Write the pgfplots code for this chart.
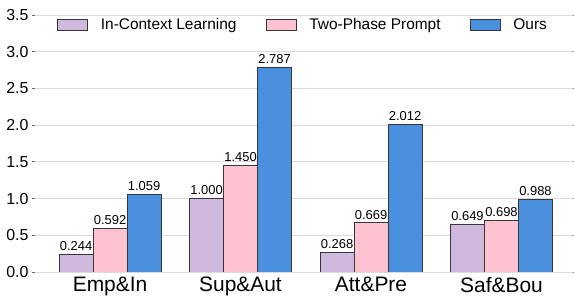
\documentclass[border=0pt]{standalone}
\usepackage{fontspec}
\setmainfont{Liberation Sans}
\usepackage{pgfplots}
\pgfplotsset{compat=1.18}
\definecolor{cpur}{RGB}{208,185,222}
\definecolor{cpink}{RGB}{255,194,209}
\definecolor{cblue}{RGB}{74,144,222}
\definecolor{cedge}{RGB}{55,55,55}
\pgfplotsset{myleg/.style={legend image code/.code={\draw[##1] (0bp,-5.5bp) rectangle (30bp,5.5bp);}}}
\begin{document}
\begin{tikzpicture}
\useasboundingbox (-35bp,-24bp) rectangle (539bp,272bp);
\begin{axis}[
 scale only axis, width=538bp, height=257bp,
 ybar=0pt, bar width=34bp,
 xmin=-0.575, xmax=3.548, ymin=0, ymax=3.5,
 xtick={0,1,2,3}, xticklabels={Emp\&In,Sup\&Aut,Att\&Pre,Saf\&Bou},
 ytick={0,0.5,1,1.5,2,2.5,3,3.5},
 axis line style={draw=none},
 ymajorgrids, grid style={draw=black!14, line width=0.9bp},
 xtick style={draw=none},
 ytick style={draw=black!60, line width=0.8bp},
 tick align=outside, major tick length=3bp,
 /pgf/number format/assume math mode=true,
 y tick label style={font=\fontsize{16}{18}\selectfont, /pgf/number format/fixed, /pgf/number format/fixed zerofill, /pgf/number format/precision=1},
 x tick label style={font=\fontsize{21}{23}\selectfont, inner sep=2bp},
 nodes near coords,
 every node near coord/.append style={font=\fontsize{13}{15}\selectfont, text=black, /pgf/number format/fixed, /pgf/number format/fixed zerofill, /pgf/number format/precision=3},
 legend style={at={(0.5,0.961)}, anchor=center, draw=none, fill=none, legend columns=3, font=\fontsize{15.5}{17}\selectfont,
   /tikz/every odd column/.append style={column sep=9bp},
   /tikz/every even column/.append style={column sep=25bp},
   nodes={inner xsep=4bp}},
]
\addplot[myleg, fill=cpur, draw=cedge, line width=0.8bp] coordinates {(0,0.244) (1,1.000) (2,0.268) (3,0.649)};
\addplot[myleg, fill=cpink, draw=cedge, line width=0.8bp] coordinates {(0,0.592) (1,1.450) (2,0.669) (3,0.698)};
\addplot[myleg, fill=cblue, draw=cedge, line width=0.8bp] coordinates {(0,1.059) (1,2.787) (2,2.012) (3,0.988)};
\legend{In-Context Learning, Two-Phase Prompt, Ours}
\end{axis}
\end{tikzpicture}
\end{document}
